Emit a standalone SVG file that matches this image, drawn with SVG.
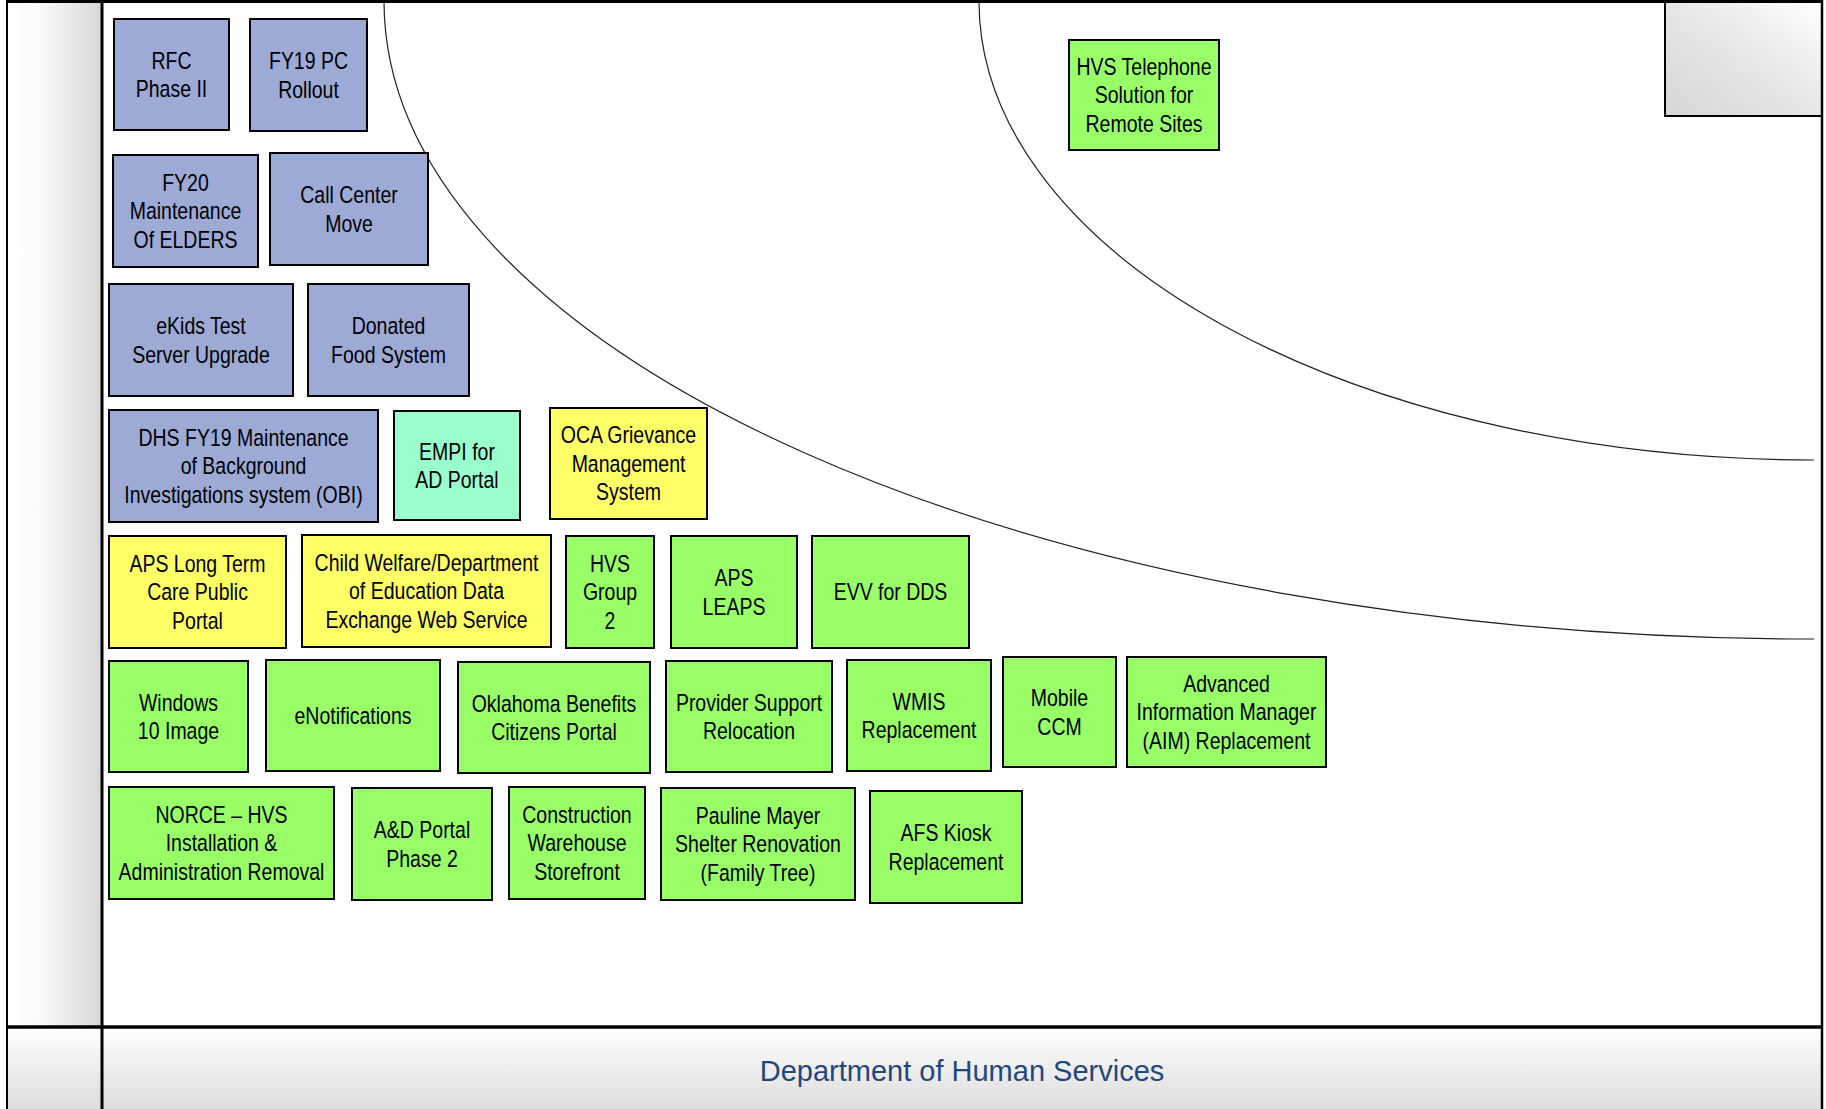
<svg xmlns="http://www.w3.org/2000/svg" width="1826" height="1109" viewBox="0 0 1826 1109">
<defs>
<linearGradient id="gLeft" x1="0" y1="0" x2="1" y2="0">
<stop offset="0" stop-color="#FFFFFF"/><stop offset="0.35" stop-color="#FAFAFA"/><stop offset="1" stop-color="#D8D8D8"/>
</linearGradient>
<linearGradient id="gFoot" x1="0" y1="0" x2="0" y2="1">
<stop offset="0" stop-color="#FFFFFF"/><stop offset="1" stop-color="#DDDDDD"/>
</linearGradient>
<linearGradient id="gCorner" x1="0" y1="1" x2="1" y2="0">
<stop offset="0" stop-color="#D6D6D6"/><stop offset="0.5" stop-color="#E6E6E6"/><stop offset="1" stop-color="#FFFFFF"/>
</linearGradient>
<style>
.box{stroke:#000;stroke-width:2}
.blue{fill:#9DAAD6}
.green{fill:#99FF66}
.yellow{fill:#FFFF66}
.teal{fill:#99FFCC}
.lbl{font-family:"Liberation Sans",Arial,sans-serif;font-size:23.5px;fill:#000;text-anchor:middle}
.curve{fill:none;stroke:#222;stroke-width:1.2}
.frame{fill:none;stroke:#000}
</style>
</defs>
<rect x="0" y="0" width="1826" height="1109" fill="#FFFFFF"/>
<g id="frame">
<rect x="7" y="1" width="95" height="1026" fill="url(#gLeft)"/>
<rect x="7" y="1027" width="1815" height="82" fill="url(#gFoot)"/>
<rect x="1665" y="2" width="157" height="114" fill="url(#gCorner)" stroke="#000" stroke-width="2"/>
<line x1="7" y1="0" x2="7" y2="1109" class="frame" stroke-width="2"/>
<line x1="1822" y1="0" x2="1822" y2="1109" class="frame" stroke-width="2.5"/>
<line x1="7" y1="1.5" x2="1822" y2="1.5" class="frame" stroke-width="3"/>
<line x1="102" y1="0" x2="102" y2="1109" class="frame" stroke-width="3"/>
<line x1="7" y1="1027" x2="1822" y2="1027" class="frame" stroke-width="3.5"/>
<text x="962" y="1081" font-family="Liberation Sans, Arial, sans-serif" font-size="29" fill="#1F497D" text-anchor="middle">Department of Human Services</text>
</g>
<g id="connectors">
<path class="curve" d="M384,2 A1430 638 0 0 0 1814 639"/>
<path class="curve" d="M979,2 A835 459 0 0 0 1814 460"/>
</g>
<g id="n-rfc"><rect class="box blue" x="114" y="19" width="115" height="111"/><text class="lbl" transform="translate(171.5,68.5) scale(0.83,1)"><tspan x="0" y="0">RFC</tspan><tspan x="0" y="28.6">Phase II</tspan></text></g>
<g id="n-fy19pc"><rect class="box blue" x="250" y="19" width="117" height="112"/><text class="lbl" transform="translate(308.5,69) scale(0.83,1)"><tspan x="0" y="0">FY19 PC</tspan><tspan x="0" y="28.6">Rollout</tspan></text></g>
<g id="n-fy20"><rect class="box blue" x="113" y="155" width="145" height="112"/><text class="lbl" transform="translate(185.5,190.7) scale(0.83,1)"><tspan x="0" y="0">FY20</tspan><tspan x="0" y="28.6">Maintenance</tspan><tspan x="0" y="57.2">Of ELDERS</tspan></text></g>
<g id="n-callcenter"><rect class="box blue" x="270" y="153" width="158" height="112"/><text class="lbl" transform="translate(349,203) scale(0.83,1)"><tspan x="0" y="0">Call Center</tspan><tspan x="0" y="28.6">Move</tspan></text></g>
<g id="n-ekids"><rect class="box blue" x="109" y="284" width="184" height="112"/><text class="lbl" transform="translate(201,334) scale(0.83,1)"><tspan x="0" y="0">eKids Test</tspan><tspan x="0" y="28.6">Server Upgrade</tspan></text></g>
<g id="n-donated"><rect class="box blue" x="308" y="284" width="161" height="112"/><text class="lbl" transform="translate(388.5,334) scale(0.83,1)"><tspan x="0" y="0">Donated</tspan><tspan x="0" y="28.6">Food System</tspan></text></g>
<g id="n-dhsfy19"><rect class="box blue" x="109" y="410" width="269" height="112"/><text class="lbl" transform="translate(243.5,445.7) scale(0.83,1)"><tspan x="0" y="0">DHS FY19 Maintenance</tspan><tspan x="0" y="28.6">of Background</tspan><tspan x="0" y="57.2">Investigations system (OBI)</tspan></text></g>
<g id="n-empi"><rect class="box teal" x="394" y="411" width="126" height="109"/><text class="lbl" transform="translate(457,459.5) scale(0.83,1)"><tspan x="0" y="0">EMPI for</tspan><tspan x="0" y="28.6">AD Portal</tspan></text></g>
<g id="n-oca"><rect class="box yellow" x="550" y="408" width="157" height="111"/><text class="lbl" transform="translate(628.5,443.2) scale(0.83,1)"><tspan x="0" y="0">OCA Grievance</tspan><tspan x="0" y="28.6">Management</tspan><tspan x="0" y="57.2">System</tspan></text></g>
<g id="n-apsltc"><rect class="box yellow" x="109" y="536" width="177" height="112"/><text class="lbl" transform="translate(197.5,571.7) scale(0.83,1)"><tspan x="0" y="0">APS Long Term</tspan><tspan x="0" y="28.6">Care Public</tspan><tspan x="0" y="57.2">Portal</tspan></text></g>
<g id="n-childwelfare"><rect class="box yellow" x="302" y="535" width="249" height="112"/><text class="lbl" transform="translate(426.5,570.7) scale(0.83,1)"><tspan x="0" y="0">Child Welfare/Department</tspan><tspan x="0" y="28.6">of Education Data</tspan><tspan x="0" y="57.2">Exchange Web Service</tspan></text></g>
<g id="n-hvsgroup2"><rect class="box green" x="566" y="536" width="88" height="112"/><text class="lbl" transform="translate(610,571.7) scale(0.83,1)"><tspan x="0" y="0">HVS</tspan><tspan x="0" y="28.6">Group</tspan><tspan x="0" y="57.2">2</tspan></text></g>
<g id="n-apsleaps"><rect class="box green" x="671" y="536" width="126" height="112"/><text class="lbl" transform="translate(734,586) scale(0.83,1)"><tspan x="0" y="0">APS</tspan><tspan x="0" y="28.6">LEAPS</tspan></text></g>
<g id="n-evv"><rect class="box green" x="812" y="536" width="157" height="112"/><text class="lbl" transform="translate(890.5,600.3) scale(0.83,1)"><tspan x="0" y="0">EVV for DDS</tspan></text></g>
<g id="n-windows"><rect class="box green" x="109" y="661" width="139" height="111"/><text class="lbl" transform="translate(178.5,710.5) scale(0.83,1)"><tspan x="0" y="0">Windows</tspan><tspan x="0" y="28.6">10 Image</tspan></text></g>
<g id="n-enotifications"><rect class="box green" x="266" y="660" width="174" height="111"/><text class="lbl" transform="translate(353,723.8) scale(0.83,1)"><tspan x="0" y="0">eNotifications</tspan></text></g>
<g id="n-oklahoma"><rect class="box green" x="458" y="662" width="192" height="111"/><text class="lbl" transform="translate(554,711.5) scale(0.83,1)"><tspan x="0" y="0">Oklahoma Benefits</tspan><tspan x="0" y="28.6">Citizens Portal</tspan></text></g>
<g id="n-provider"><rect class="box green" x="666" y="661" width="166" height="111"/><text class="lbl" transform="translate(749,710.5) scale(0.83,1)"><tspan x="0" y="0">Provider Support</tspan><tspan x="0" y="28.6">Relocation</tspan></text></g>
<g id="n-wmis"><rect class="box green" x="847" y="660" width="144" height="111"/><text class="lbl" transform="translate(919,709.5) scale(0.83,1)"><tspan x="0" y="0">WMIS</tspan><tspan x="0" y="28.6">Replacement</tspan></text></g>
<g id="n-mobileccm"><rect class="box green" x="1003" y="657" width="113" height="110"/><text class="lbl" transform="translate(1059.5,706) scale(0.83,1)"><tspan x="0" y="0">Mobile</tspan><tspan x="0" y="28.6">CCM</tspan></text></g>
<g id="n-aim"><rect class="box green" x="1127" y="657" width="199" height="110"/><text class="lbl" transform="translate(1226.5,691.7) scale(0.83,1)"><tspan x="0" y="0">Advanced</tspan><tspan x="0" y="28.6">Information Manager</tspan><tspan x="0" y="57.2">(AIM) Replacement</tspan></text></g>
<g id="n-norce"><rect class="box green" x="109" y="787" width="225" height="112"/><text class="lbl" transform="translate(221.5,822.7) scale(0.83,1)"><tspan x="0" y="0">NORCE – HVS</tspan><tspan x="0" y="28.6">Installation &amp;</tspan><tspan x="0" y="57.2">Administration Removal</tspan></text></g>
<g id="n-adportal"><rect class="box green" x="352" y="788" width="140" height="112"/><text class="lbl" transform="translate(422,838) scale(0.83,1)"><tspan x="0" y="0">A&amp;D Portal</tspan><tspan x="0" y="28.6">Phase 2</tspan></text></g>
<g id="n-construction"><rect class="box green" x="509" y="787" width="136" height="112"/><text class="lbl" transform="translate(577,822.7) scale(0.83,1)"><tspan x="0" y="0">Construction</tspan><tspan x="0" y="28.6">Warehouse</tspan><tspan x="0" y="57.2">Storefront</tspan></text></g>
<g id="n-pauline"><rect class="box green" x="661" y="788" width="194" height="112"/><text class="lbl" transform="translate(758,823.7) scale(0.83,1)"><tspan x="0" y="0">Pauline Mayer</tspan><tspan x="0" y="28.6">Shelter Renovation</tspan><tspan x="0" y="57.2">(Family Tree)</tspan></text></g>
<g id="n-afskiosk"><rect class="box green" x="870" y="791" width="152" height="112"/><text class="lbl" transform="translate(946,841) scale(0.83,1)"><tspan x="0" y="0">AFS Kiosk</tspan><tspan x="0" y="28.6">Replacement</tspan></text></g>
<g id="n-hvstelephone"><rect class="box green" x="1069" y="40" width="150" height="110"/><text class="lbl" transform="translate(1144,74.7) scale(0.83,1)"><tspan x="0" y="0">HVS Telephone</tspan><tspan x="0" y="28.6">Solution for</tspan><tspan x="0" y="57.2">Remote Sites</tspan></text></g>
</svg>
